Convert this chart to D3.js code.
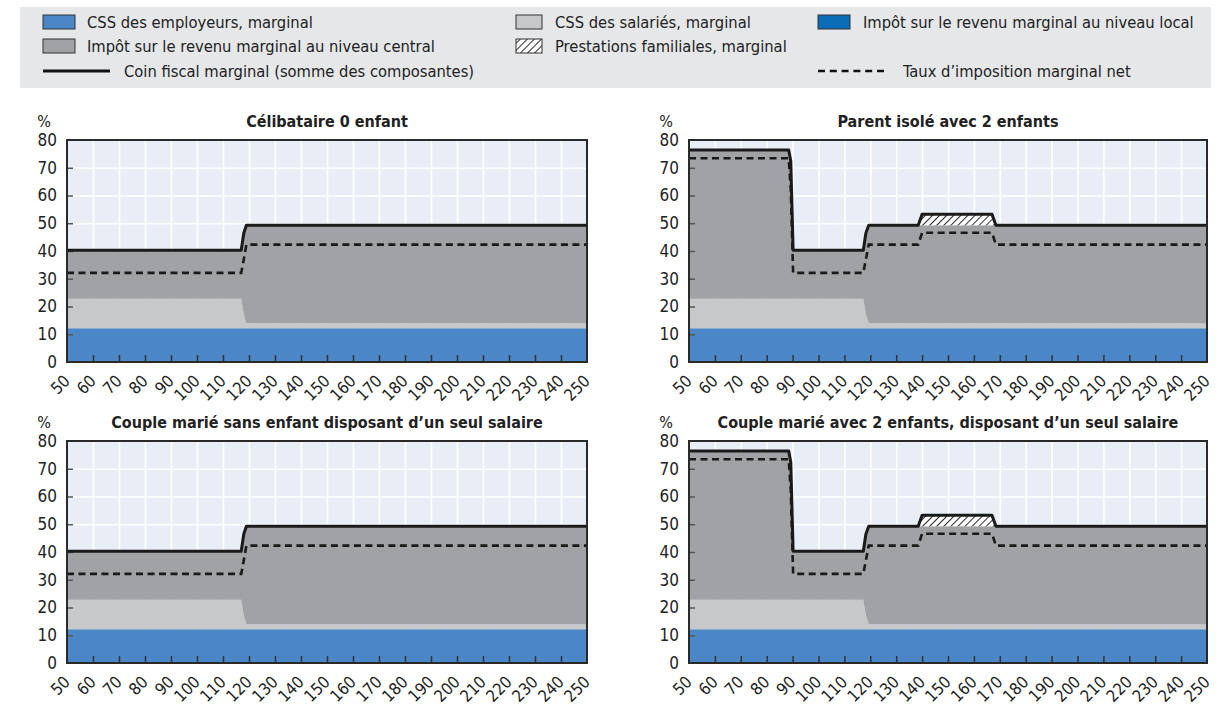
<!DOCTYPE html>
<html><head><meta charset="utf-8">
<script src="https://cdn.jsdelivr.net/npm/d3@7"></script>
<style>
body{margin:0;background:#fff;}
svg{display:block;font-family:"Liberation Sans Narrow","Arial Narrow","DejaVu Sans Condensed",sans-serif;}
</style></head><body>
<svg id="c" width="1231" height="705"></svg>
<script>
// ---- Data (income level as % of average wage, rates in %) ----
const xTicks = d3.range(50, 251, 10);
const yTicks = [0, 10, 20, 30, 40, 50, 60, 70, 80];

// Célibataire 0 enfant
const incomeSingle   = [50, 117, 118, 119, 250];
const employerSingle = [12.2, 12.2, 12.2, 12.2, 12.2];
const employeeSingle = [10.6, 10.6, 5.0, 1.8, 1.8];
const centralSingle  = [17.5, 17.5, 29.3, 35.3, 35.3];
const localSingle    = [0, 0, 0, 0, 0];
const familySingle   = [0, 0, 0, 0, 0];
const netSingle      = [32.1, 32.1, 37.0, 42.3, 42.3];

// Parent isolé avec 2 enfants
const incomeParent   = [50, 88.5, 89.3, 90.2, 117.3, 118.3, 119.4, 138.5, 140, 167, 168.5, 250];
const employerParent = [12.2, 12.2, 12.2, 12.2, 12.2, 12.2, 12.2, 12.2, 12.2, 12.2, 12.2, 12.2];
const employeeParent = [10.6, 10.6, 10.6, 10.6, 10.6, 5.0, 1.8, 1.8, 1.8, 1.8, 1.8, 1.8];
const centralParent  = [53.6, 53.6, 49.5, 17.5, 17.5, 29.3, 35.3, 35.3, 35.3, 35.3, 35.3, 35.3];
const localParent    = [0, 0, 0, 0, 0, 0, 0, 0, 0, 0, 0, 0];
const familyParent   = [0, 0, 0, 0, 0, 0, 0, 0, 3.9, 3.9, 0, 0];
const netParent      = [73.4, 73.4, 62.0, 32.1, 32.1, 37.0, 42.3, 42.3, 46.6, 46.6, 42.3, 42.3];

// Couple marié sans enfant disposant d'un seul salaire
const incomeCouple   = [50, 117, 118, 119, 250];
const employerCouple = [12.2, 12.2, 12.2, 12.2, 12.2];
const employeeCouple = [10.6, 10.6, 5.0, 1.8, 1.8];
const centralCouple  = [17.5, 17.5, 29.3, 35.3, 35.3];
const localCouple    = [0, 0, 0, 0, 0];
const familyCouple   = [0, 0, 0, 0, 0];
const netCouple      = [32.1, 32.1, 37.0, 42.3, 42.3];

// Couple marié avec 2 enfants, disposant d'un seul salaire
const incomeCouple2   = [50, 88.5, 89.3, 90.2, 117.3, 118.3, 119.4, 138.5, 140, 167, 168.5, 250];
const employerCouple2 = [12.2, 12.2, 12.2, 12.2, 12.2, 12.2, 12.2, 12.2, 12.2, 12.2, 12.2, 12.2];
const employeeCouple2 = [10.6, 10.6, 10.6, 10.6, 10.6, 5.0, 1.8, 1.8, 1.8, 1.8, 1.8, 1.8];
const centralCouple2  = [53.6, 53.6, 49.5, 17.5, 17.5, 29.3, 35.3, 35.3, 35.3, 35.3, 35.3, 35.3];
const localCouple2    = [0, 0, 0, 0, 0, 0, 0, 0, 0, 0, 0, 0];
const familyCouple2   = [0, 0, 0, 0, 0, 0, 0, 0, 3.9, 3.9, 0, 0];
const netCouple2      = [73.4, 73.4, 62.0, 32.1, 32.1, 37.0, 42.3, 42.3, 46.6, 46.6, 42.3, 42.3];

const seriesKeys = ["employer", "employee", "central", "local", "family"];
const legendLabels = {
  employer: "CSS des employeurs, marginal",
  employee: "CSS des salariés, marginal",
  local: "Impôt sur le revenu marginal au niveau local",
  central: "Impôt sur le revenu marginal au niveau central",
  family: "Prestations familiales, marginal",
  total: "Coin fiscal marginal (somme des composantes)",
  net: "Taux d’imposition marginal net"
};

// ---- Styling ----
const colors = {employer: "#4b87c6", employee: "#c7c8ca", central: "#a1a2a6", local: "#0b6cb8", family: "url(#hatch)"};

function buildRows(income, employer, employee, central, local, family, net) {
  return income.map((x, i) => ({x, employer: employer[i], employee: employee[i], central: central[i], local: local[i], family: family[i], net: net[i]}));
}

const panels = [
  {title: "Célibataire 0 enfant", rows: buildRows(incomeSingle, employerSingle, employeeSingle, centralSingle, localSingle, familySingle, netSingle), left: 67, right: 587, top: 140, bottom: 362},
  {title: "Parent isolé avec 2 enfants", rows: buildRows(incomeParent, employerParent, employeeParent, centralParent, localParent, familyParent, netParent), left: 689, right: 1207, top: 140, bottom: 362},
  {title: "Couple marié sans enfant disposant d’un seul salaire", rows: buildRows(incomeCouple, employerCouple, employeeCouple, centralCouple, localCouple, familyCouple, netCouple), left: 67, right: 587, top: 441, bottom: 663},
  {title: "Couple marié avec 2 enfants, disposant d’un seul salaire", rows: buildRows(incomeCouple2, employerCouple2, employeeCouple2, centralCouple2, localCouple2, familyCouple2, netCouple2), left: 689, right: 1207, top: 441, bottom: 663}
];

const svg = d3.select("#c");
const defs = svg.append("defs");
const pat = defs.append("pattern").attr("id", "hatch").attr("patternUnits", "userSpaceOnUse")
  .attr("width", 5).attr("height", 5).attr("patternTransform", "rotate(45)");
pat.append("rect").attr("width", 5).attr("height", 5).attr("fill", "#fff");
pat.append("line").attr("x1", 0).attr("y1", 0).attr("x2", 0).attr("y2", 5).attr("stroke", "#111").attr("stroke-width", 1.8);

// ---- Legend ----
const lg = svg.append("g");
lg.append("rect").attr("x", 20).attr("y", 7).attr("width", 1191).attr("height", 81).attr("fill", "#e6e7e9");
const legendItems = [
  {key: "employer", type: "box", sx: 43, tx: 87, y: 22},
  {key: "central", type: "box", sx: 43, tx: 87, y: 46},
  {key: "total", type: "line", sx: 43, ex: 110, tx: 124, y: 71},
  {key: "employee", type: "box", sx: 516, tx: 555, y: 22, w: 26},
  {key: "family", type: "box", sx: 516, tx: 555, y: 46, w: 26},
  {key: "local", type: "box", sx: 818, tx: 863, y: 22},
  {key: "net", type: "dash", sx: 818, ex: 884, tx: 903, y: 71}
];
legendItems.forEach(it => {
  if (it.type === "box") {
    lg.append("rect").attr("x", it.sx).attr("y", it.y - 7).attr("width", it.w || 32).attr("height", 14)
      .attr("fill", colors[it.key]).attr("stroke", "#333").attr("stroke-width", 1);
  } else {
    lg.append("line").attr("x1", it.sx).attr("x2", it.ex).attr("y1", it.y).attr("y2", it.y)
      .attr("stroke", "#111").attr("stroke-width", it.type === "line" ? 3 : 2.5)
      .attr("stroke-dasharray", it.type === "dash" ? "7,4.8" : null);
  }
  lg.append("text").attr("x", it.tx).attr("y", it.y).attr("dy", "0.35em")
    .attr("font-size", 16.4).attr("fill", "#222").text(legendLabels[it.key]);
});

// ---- Panels ----
panels.forEach((p, pi) => {
  const w = p.right - p.left, h = p.bottom - p.top;
  const x = d3.scaleLinear().domain([50, 250]).range([0, w]);
  const y = d3.scaleLinear().domain([0, 80]).range([h, 0]);
  const g = svg.append("g").attr("transform", `translate(${p.left},${p.top})`);
  const clipId = "clip" + pi;
  defs.append("clipPath").attr("id", clipId).append("rect").attr("width", w).attr("height", h);

  g.append("rect").attr("width", w).attr("height", h).attr("fill", "#e8edf6");
  // grid
  g.append("g").call(d3.axisBottom(x).tickValues(xTicks.slice(1, -1)).tickSize(h).tickFormat(""))
    .call(s => s.select(".domain").remove())
    .call(s => s.selectAll("line").attr("stroke", "#fff").attr("stroke-width", 1.6));
  g.append("g").call(d3.axisRight(y).tickValues(yTicks.slice(1, -1)).tickSize(w).tickFormat(""))
    .call(s => s.select(".domain").remove())
    .call(s => s.selectAll("line").attr("stroke", "#fff").attr("stroke-width", 1.6));

  const stack = d3.stack().keys(seriesKeys)(p.rows);
  const area = d3.area().x(d => x(d.data.x)).y0(d => y(d[0])).y1(d => y(d[1]));
  const ga = g.append("g").attr("clip-path", `url(#${clipId})`);
  ga.selectAll("path.a").data(stack).join("path").attr("class", "a")
    .attr("d", area).attr("fill", d => colors[d.key]).attr("stroke", "none");

  // inside ticks
  g.append("g").call(d3.axisRight(y).tickValues(yTicks.slice(1, -1)).tickSize(6).tickFormat(""))
    .call(s => s.select(".domain").remove())
    .call(s => s.selectAll("line").attr("stroke", "#555").attr("stroke-width", 1.5));
  g.append("g").attr("transform", `translate(0,${h})`)
    .call(d3.axisTop(x).tickValues(xTicks.slice(1, -1)).tickSize(7).tickFormat(""))
    .call(s => s.select(".domain").remove())
    .call(s => s.selectAll("line").attr("stroke", "#333").attr("stroke-width", 1.5));

  // lines
  const top = stack[stack.length - 1];
  const line = d3.line().x(d => x(d.data.x)).y(d => y(d[1]));
  ga.append("path").attr("d", d3.line().x(d => x(d.x)).y(d => y(d.net))(p.rows))
    .attr("fill", "none").attr("stroke", "#1a1a1a").attr("stroke-width", 2.6).attr("stroke-dasharray", "7,4.5");
  g.append("path").attr("d", line(top)).attr("fill", "none").attr("stroke", "#1a1a1a")
    .attr("stroke-width", 3).attr("stroke-linejoin", "round");

  g.append("rect").attr("width", w).attr("height", h).attr("fill", "none").attr("stroke", "#2a2a2a").attr("stroke-width", 2);

  // axes labels
  const ya = g.append("g").call(d3.axisLeft(y).tickValues(yTicks).tickSize(0).tickPadding(10))
    .call(s => s.select(".domain").remove());
  ya.attr("font-family", null).attr("font-size", null);
  ya.selectAll("text").attr("font-size", 17).attr("fill", "#222");

  const xa = g.append("g").attr("transform", `translate(0,${h})`);
  xa.selectAll("text").data(xTicks).join("text")
    .attr("transform", d => `translate(${x(d) + 4},${20}) rotate(-45)`)
    .attr("text-anchor", "end").attr("font-size", 16.5).attr("fill", "#222").text(d => d);

  g.append("text").attr("x", -23).attr("y", -19).attr("text-anchor", "middle").attr("dy", "0.35em")
    .attr("font-size", 16).attr("fill", "#222").text("%");
  g.append("text").attr("x", w / 2).attr("y", -19).attr("text-anchor", "middle").attr("dy", "0.35em")
    .attr("font-size", 16).attr("font-weight", "bold").attr("fill", "#222").text(p.title);
});
</script>
</body></html>
